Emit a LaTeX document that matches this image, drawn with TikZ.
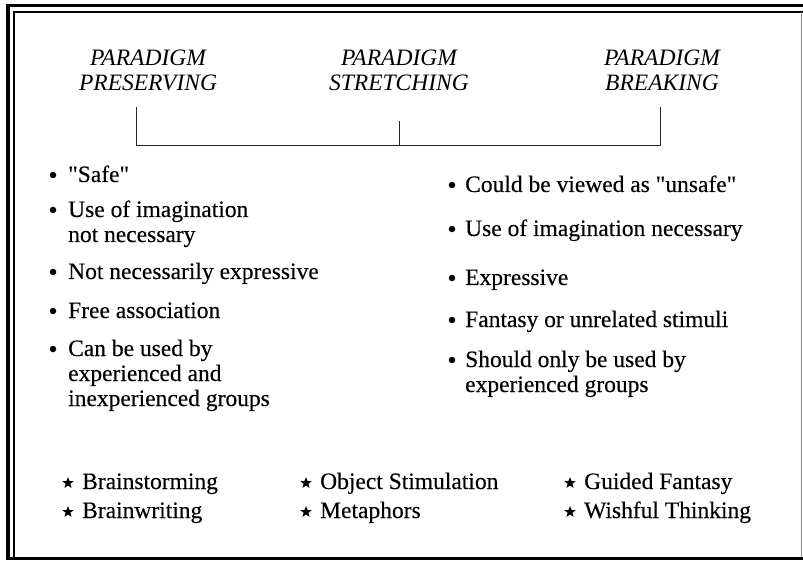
\documentclass[tikz,border=0pt]{standalone}
\usepackage{fontspec}
\setmainfont{Liberation Serif}
\newfontfamily\bodyfont{Liberation Serif}[FakeBold=0.25]
\usetikzlibrary{shapes.geometric}
\newcommand{\dq}{\symbol{34}}
\begin{document}
\begin{tikzpicture}[x=1pt,y=-1pt,
  txt/.style={anchor=base west,inner sep=0pt,font=\bodyfont\fontsize{23.5}{25}\selectfont},
  head/.style={anchor=base,inner sep=0pt,font=\fontsize{23.5}{25}\selectfont\itshape},
  dot/.style={circle,fill=black,inner sep=0pt,minimum size=6.5pt},
  starmark/.style={star,star points=5,star point ratio=2.4,fill=black,inner sep=0pt,minimum size=12pt},
  link/.style={draw=black!85,line width=0.9pt},
  frameout/.style={line width=3.3pt},
  framein/.style={line width=2pt},
]
\useasboundingbox (0,0) rectangle (803,561);

% frame
\draw[frameout] (8,5.7) -- (803,5.7);
\draw[frameout] (8,4) -- (8,560);
\draw[frameout] (6.3,558.5) -- (803,558.5);
\draw[framein] (13.5,12.2) -- (803,12.2);
\draw[framein] (13.5,11.2) -- (13.5,557);
\draw[line width=1pt,black!45] (801.5,12) -- (801.5,557);

% column headings
\node[head] (pp1) at (148,66) {PARADIGM};
\node[head] (pp2) at (148,91) {PRESERVING};
\node[head] (ps1) at (399,66) {PARADIGM};
\node[head] (ps2) at (399,91) {STRETCHING};
\node[head] (pb1) at (662,66) {PARADIGM};
\node[head] (pb2) at (662,91) {BREAKING};

% bracket joining the three headings
\coordinate (tl) at (136,107);
\coordinate (tm) at (399,121);
\coordinate (tr) at (660,107);
\coordinate (bl) at (136,145);
\coordinate (bm) at (399,145);
\coordinate (br) at (660,145);
\draw[link] (tl) -- (bl) -- (br) -- (tr);
\draw[link] (tm) -- (bm);

% left list
\node[dot] (ld1) at (53,175) {};
\node[txt] (l1) at (68,182) {\dq Safe\dq};
\node[dot] (ld2) at (53,210) {};
\node[txt] (l2a) at (68,217) {Use of imagination};
\node[txt] (l2b) at (68,242) {not necessary};
\node[dot] (ld3) at (53,272) {};
\node[txt] (l3) at (68,279) {Not necessarily expressive};
\node[dot] (ld4) at (53,311) {};
\node[txt] (l4) at (68,318) {Free association};
\node[dot] (ld5) at (53,349) {};
\node[txt] (l5a) at (68,356) {Can be used by};
\node[txt] (l5b) at (68,381) {experienced and};
\node[txt] (l5c) at (68,406) {inexperienced groups};

% right list
\node[dot] (rd1) at (452,185) {};
\node[txt] (r1) at (465,192) {Could be viewed as \dq unsafe\dq};
\node[dot] (rd2) at (452,229) {};
\node[txt] (r2) at (465,236) {Use of imagination necessary};
\node[dot] (rd3) at (452,278) {};
\node[txt] (r3) at (465,285) {Expressive};
\node[dot] (rd4) at (452,320) {};
\node[txt] (r4) at (465,327) {Fantasy or unrelated stimuli};
\node[dot] (rd5) at (452,360) {};
\node[txt] (r5a) at (465,367) {Should only be used by};
\node[txt] (r5b) at (465,392) {experienced groups};

% techniques
\node[starmark] (s1) at (68,483) {};
\node[txt] (t1) at (82,489) {Brainstorming};
\node[starmark] (s2) at (68,512) {};
\node[txt] (t2) at (82,518) {Brainwriting};
\node[starmark] (s3) at (306,483) {};
\node[txt] (t3) at (320,489) {Object Stimulation};
\node[starmark] (s4) at (306,512) {};
\node[txt] (t4) at (320,518) {Metaphors};
\node[starmark] (s5) at (570,483) {};
\node[txt] (t5) at (584,489) {Guided Fantasy};
\node[starmark] (s6) at (570,512) {};
\node[txt] (t6) at (584,518) {Wishful Thinking};
\end{tikzpicture}
\end{document}
